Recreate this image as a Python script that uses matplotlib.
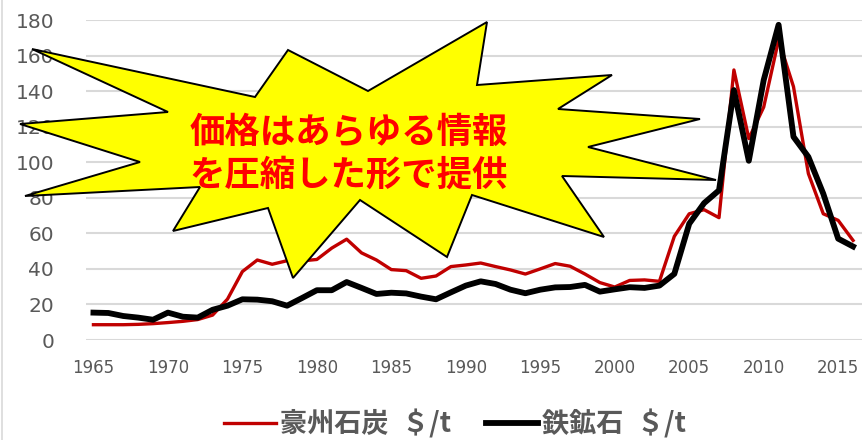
import matplotlib
matplotlib.use("Agg")
import matplotlib.pyplot as plt
from matplotlib.patches import Polygon
from matplotlib.lines import Line2D

# data
years = list(range(1965, 2017))
coal = [8.6, 8.6, 8.6, 8.8, 9.2, 9.8, 10.5, 11.5, 14.0, 23.0,
        38.5, 45.0, 42.6, 44.6, 44.5, 45.3, 51.7, 56.7, 49.0, 45.0,
        39.6, 39.0, 34.7, 36.0, 41.3, 42.2, 43.3, 41.3, 39.4, 37.1,
        40.0, 43.0, 41.5, 37.1, 32.3, 29.8, 33.5, 33.8, 33.0, 58.3,
        71.0, 73.3, 68.8, 151.9, 113.3, 131.0, 168.8, 142.5, 93.6, 71.0,
        67.3, 56.0]
iron = [15.4, 15.2, 13.5, 12.6, 11.4, 15.4, 13.1, 12.6, 17.0, 19.3,
        22.9, 22.7, 21.8, 19.3, 23.6, 28.0, 28.0, 32.6, 29.3, 25.9,
        26.6, 26.2, 24.4, 22.9, 26.8, 30.6, 33.0, 31.5, 28.3, 26.3,
        28.3, 29.6, 29.8, 31.0, 27.2, 28.5, 29.7, 29.3, 30.6, 37.2,
        65.4, 77.0, 84.2, 140.6, 100.8, 146.2, 177.3, 114.3, 103.0, 82.3,
        57.0, 52.6]
coal_label = "豪州石炭\u2002＄/t"
iron_label = "鉄鉱石\u2002＄/t"
note_lines = ["価格はあらゆる情報", "を圧縮した形で提供"]
xticks = list(range(1965, 2016, 5))
yticks = list(range(0, 181, 20))

# explosion shape outline (pixel positions on the 865x440 canvas)
star_px = [(32, 49), (255, 97), (288, 50), (368, 91), (487, 22), (477, 85),
           (612, 75), (558, 109), (700, 119), (588, 147), (716, 180),
           (562, 176), (604, 237), (472, 195), (447, 257), (360, 200),
           (293, 278), (268, 208), (173, 231), (200, 187), (25, 196),
           (140, 162), (20, 124), (168, 112)]

W, H = 865, 440
grey = "#595959"
cjk = ["Noto Sans CJK JP", "DejaVu Sans"]

fig = plt.figure(figsize=(W / 100, H / 100), dpi=100)
ax = fig.add_axes([86 / W, 1 - 340 / H, 776 / W, 320 / H])

ax.plot(years, coal, color="#C00000", lw=2.4, label=coal_label, zorder=3)
ax.plot(years, iron, color="black", lw=4.2, label=iron_label, zorder=4)

ax.set_xlim(1964.5, 2016.6)
ax.set_ylim(0, 180)
ax.set_xticks(xticks)
ax.set_yticks(yticks)
ax.grid(axis="y", color="#d9d9d9", lw=1.5, zorder=0)
ax.set_axisbelow(True)
for s in ax.spines.values():
    s.set_visible(False)
ax.tick_params(axis="both", length=0, colors=grey)
ax.tick_params(axis="x", labelsize=12, pad=14)
ax.tick_params(axis="y", labelsize=14.5, pad=23)

# thin chart border on the left edge
fig.add_artist(Line2D([0.002, 0.002], [0, 1], color="#d9d9d9", lw=1.2))

star = Polygon([(x / W, 1 - y / H) for x, y in star_px], closed=True,
               facecolor="#FFFF00", edgecolor="black", lw=1.4,
               transform=fig.transFigure, zorder=10)
fig.add_artist(star)
fig.text(190 / W, 1 - 132 / H, note_lines[0], color="#FF0000", fontsize=25.5,
         fontweight="bold", family=cjk, ha="left", va="center", zorder=11)
fig.text(190 / W, 1 - 175 / H, note_lines[1], color="#FF0000", fontsize=25.5,
         fontweight="bold", family=cjk, ha="left", va="center", zorder=11)

leg = fig.legend(loc="center", bbox_to_anchor=(455 / W, 1 - 424 / H), ncol=2,
                 frameon=False, handlelength=1.9, handletextpad=0.15,
                 columnspacing=1.3, prop={"family": cjk, "size": 19.5, "weight": "bold"})
for t in leg.get_texts():
    t.set_color(grey)

fig.savefig("out.png", dpi=100)
